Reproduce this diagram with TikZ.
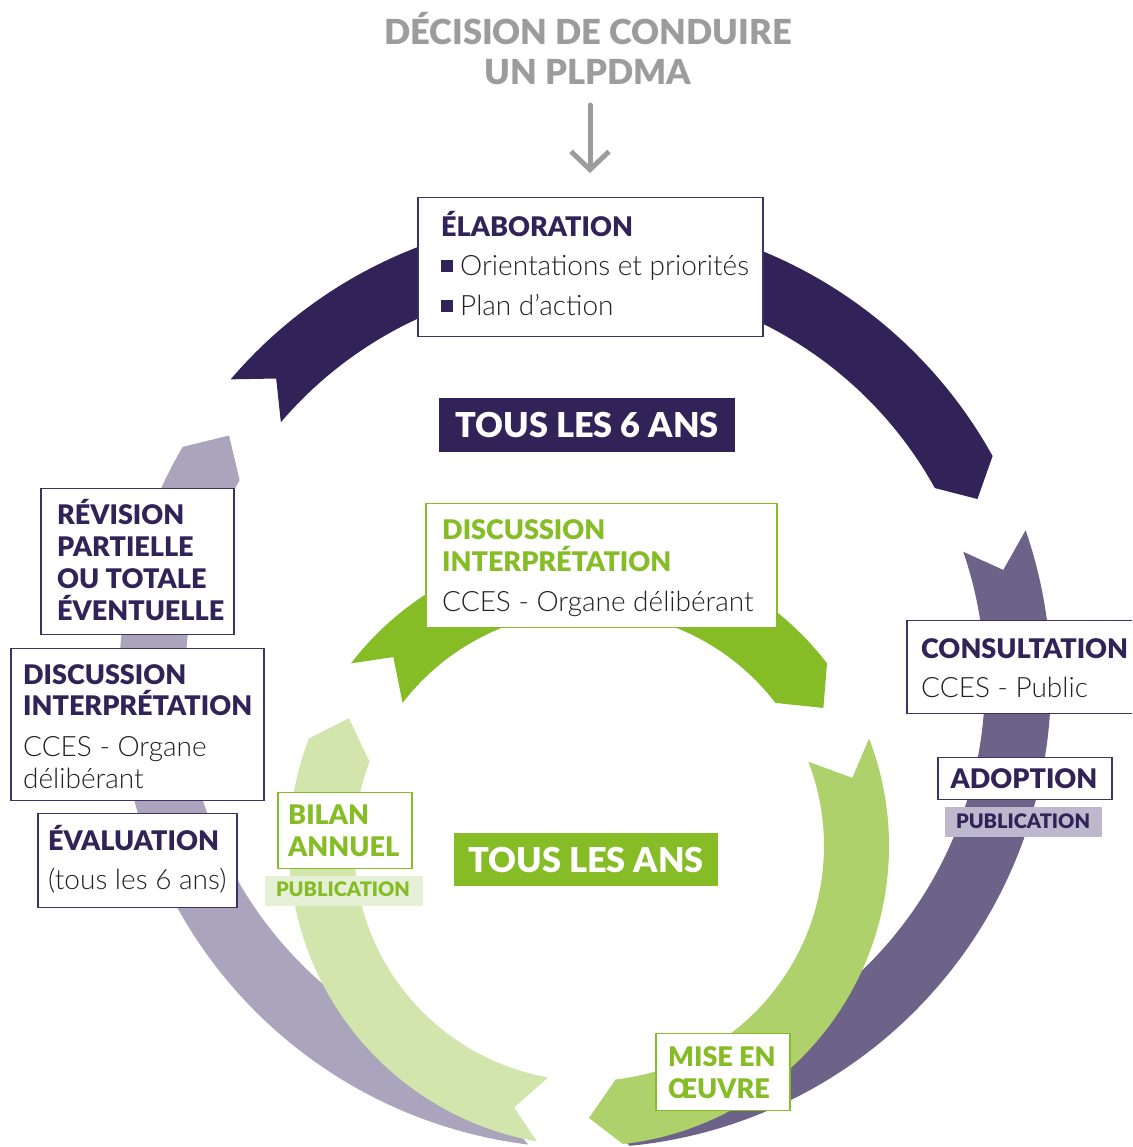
\documentclass[tikz,border=0pt]{standalone}
\usepackage{fontspec}
\setmainfont{Lato}
\newfontfamily\hvfont{Lato Black}
\newfontfamily\ltfont{Lato Light}
\usetikzlibrary{arrows.meta}
\definecolor{dpurple}{HTML}{312258}
\definecolor{mpurple}{HTML}{6D6389}
\definecolor{lpurple}{HTML}{AAA5BD}
\definecolor{pubp}{HTML}{BDB8CE}
\definecolor{boxp}{HTML}{3D3166}
\definecolor{bgreen}{HTML}{86BC25}
\definecolor{lgreen}{HTML}{AED16B}
\definecolor{vlgreen}{HTML}{D1E5AC}
\definecolor{pubg}{HTML}{E6F0D6}
\definecolor{grayt}{HTML}{9C9C9C}
\definecolor{textc}{HTML}{222222}
\newcommand\ringarrow[9]{%
  \begin{scope}[shift={(#2)}]
  \fill[#1] (#6:#4pt) arc[start angle=#6, end angle=#7, radius=#4pt]
    -- ({#7-#9}:#5pt) -- (#7:#3pt)
    arc[start angle=#7, end angle=#6, radius=#3pt]
    -- ({#6-#8}:#5pt) -- cycle;
  \end{scope}}
\begin{document}
\begin{tikzpicture}[x=1pt,y=1pt,
  hd/.style={font=\hvfont\fontsize{27}{30}\selectfont, text=dpurple, inner sep=0pt},
  hdg/.style={hd, text=bgreen},
  bd/.style={font=\ltfont\fontsize{28}{30}\selectfont, text=textc, inner sep=0pt},
  big/.style={font=\hvfont\fontsize{34.3}{36}\selectfont, text=white, inner sep=0pt},
  pub/.style={font=\hvfont\fontsize{20}{24}\selectfont, inner sep=0pt},
  pbox/.style={draw=boxp, line width=1.5pt, fill=white, inner sep=0pt, anchor=north west},
  gbox/.style={draw=bgreen, line width=1.5pt, fill=white, inner sep=0pt, anchor=north west},
  bullet/.style={fill=dpurple, minimum size=12pt, inner sep=0pt},
  garrow/.style={draw=grayt, line width=5pt, line cap=round, -{Straight Barb[length=18pt,width=38pt]}}
]
\clip (0,0) rectangle (1132,1147);
\fill[white] (0,0) rectangle (1132,1147);

% outer cycle (every 6 years)
\ringarrow{dpurple}{585,465}{400}{466}{433}{139.5}{29}{4}{4}
\ringarrow{mpurple}{585,465}{400}{466}{433}{19}{-84.5}{4}{3.5}
\ringarrow{lpurple}{585,465}{400}{466}{433}{263}{149.7}{5}{4.4}
% inner cycle (every year)
\ringarrow{bgreen}{589,301}{235}{300}{272}{142.5}{37.5}{6.5}{7}
\ringarrow{lgreen}{589,301}{235}{300}{272}{21}{-83.5}{6.5}{6.5}
\ringarrow{vlgreen}{589,301}{235}{300}{272}{260}{159}{6}{7}

% title
\node[font=\hvfont\fontsize{34.5}{36}\selectfont, text=grayt, inner sep=0pt, anchor=base] (title1) at (588,1102) {DÉCISION DE CONDUIRE};
\node[font=\hvfont\fontsize{34.5}{36}\selectfont, text=grayt, inner sep=0pt, anchor=base] (title2) at (588,1062) {UN PLPDMA};

% Elaboration
\node[pbox, minimum width=345pt, minimum height=139pt] (elab) at (417,950) {};
\node[hd, anchor=base west] (elabT) at (441,910) {ÉLABORATION};
\node[bullet] (b1) at (447,881) {};
\node[bd, anchor=base west] (elab1) at (460,871) {Orientations et priorités};
\node[bullet] (b2) at (447,841) {};
\node[bd, anchor=base west] (elab2) at (460,831) {Plan d’action};
\coordinate (arrS) at (590,1042);
\draw[garrow] (arrS) -- ([yshift=24pt]arrS |- elab.north);

% Tous les 6 ans
\node[fill=dpurple, minimum width=296pt, minimum height=54pt, inner sep=0pt, anchor=north west] (t6box) at (439,749) {};
\node[big, anchor=base] (t6) at (587,709) {TOUS LES 6 ANS};

% Consultation
\node[pbox, minimum width=232pt, minimum height=93pt] (cons) at (906,527) {};
\node[hd, anchor=base west] (consT) at (921,488) {CONSULTATION};
\node[bd, anchor=base west] (consB) at (921,449) {CCES - Public};

% Adoption
\node[pbox, minimum width=174pt, minimum height=42pt] (adop) at (937,390) {};
\node[hd, anchor=base] (adopT) at (1024,358) {ADOPTION};
\node[fill=pubp, minimum width=157pt, minimum height=30pt, inner sep=0pt, anchor=north west] (pubPbox) at (945,340) {};
\node[pub, text=dpurple, anchor=base] (pubP) at (1023,318) {PUBLICATION};

% Revision
\node[pbox, minimum width=193pt, minimum height=146pt] (rev) at (40,659) {};
\node[hd, anchor=base west] (rev1) at (57,622) {RÉVISION};
\node[hd, anchor=base west] (rev2) at (57,590) {PARTIELLE};
\node[hd, anchor=base west] (rev3) at (57,558) {OU TOTALE};
\node[hd, anchor=base west] (rev4) at (57,526) {ÉVENTUELLE};

% Discussion (purple)
\node[pbox, minimum width=253pt, minimum height=152pt] (discP) at (10,499) {};
\node[hd, anchor=base west] (dp1) at (23,462) {DISCUSSION};
\node[hd, anchor=base west] (dp2) at (23,431) {INTERPRÉTATION};
\node[bd, anchor=base west] (dp3) at (23,390) {CCES - Organe};
\node[bd, anchor=base west] (dp4) at (23,358) {délibérant};

% Evaluation
\node[pbox, minimum width=199pt, minimum height=94pt] (eval) at (37,334) {};
\node[hd, anchor=base west] (ev1) at (48,296) {ÉVALUATION};
\node[bd, anchor=base west] (ev2) at (48,257) {(tous les 6 ans)};

% Discussion (green)
\node[gbox, minimum width=351pt, minimum height=124pt] (discG) at (425,644) {};
\node[hdg, anchor=base west] (dg1) at (442,607) {DISCUSSION};
\node[hdg, anchor=base west] (dg2) at (442,575) {INTERPRÉTATION};
\node[bd, anchor=base west] (dg3) at (442,535) {CCES - Organe délibérant};

% Bilan annuel
\node[gbox, minimum width=134pt, minimum height=76pt] (bilan) at (277,355) {};
\node[hdg, anchor=base west] (bi1) at (288,322) {BILAN};
\node[hdg, anchor=base west] (bi2) at (288,290) {ANNUEL};
\node[fill=pubg, minimum width=158pt, minimum height=30pt, inner sep=0pt, anchor=north west] (pubGbox) at (265,271) {};
\node[pub, text=bgreen, anchor=base] (pubG) at (343,250) {PUBLICATION};

% Tous les ans
\node[fill=bgreen, minimum width=264pt, minimum height=53pt, inner sep=0pt, anchor=north west] (tabox) at (454,314) {};
\node[big, anchor=base] (ta) at (586,274) {TOUS LES ANS};

% Mise en oeuvre
\node[gbox, minimum width=134pt, minimum height=77pt] (mise) at (655,114) {};
\node[hdg, anchor=base west] (mi1) at (668,80) {MISE EN};
\node[hdg, anchor=base west] (mi2) at (668,48) {ŒUVRE};
\end{tikzpicture}
\end{document}
